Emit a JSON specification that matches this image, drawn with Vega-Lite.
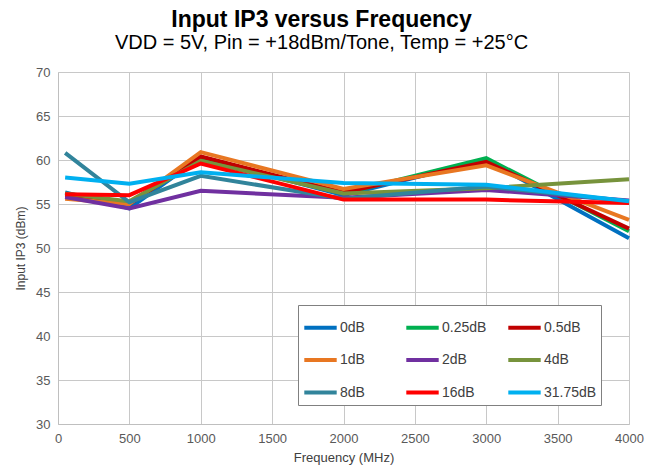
{
  "$schema": "https://vega.github.io/schema/vega-lite/v6.json",
  "width": 571,
  "height": 352,
  "autosize": {"type": "none"},
  "padding": {"left": 58, "top": 72, "right": 16, "bottom": 51},
  "background": "white",
  "config": {
    "font": "Liberation Sans",
    "view": {"stroke": null}
  },
  "title": {
    "text": "Input IP3 versus Frequency",
    "subtitle": "VDD = 5V, Pin = +18dBm/Tone, Temp = +25°C",
    "anchor": "middle",
    "dx": -22,
    "fontSize": 23,
    "fontWeight": "bold",
    "color": "#000000",
    "subtitleFontSize": 20,
    "subtitleColor": "#000000",
    "subtitlePadding": 1,
    "offset": 13
  },
  "data": {
    "values": [
      {"series": "0dB", "freq": 50, "ip3": 56.3},
      {"series": "0dB", "freq": 500, "ip3": 54.5},
      {"series": "0dB", "freq": 1000, "ip3": 60.3},
      {"series": "0dB", "freq": 2000, "ip3": 56.0},
      {"series": "0dB", "freq": 3000, "ip3": 60.0},
      {"series": "0dB", "freq": 4000, "ip3": 51.1},
      {"series": "0.25dB", "freq": 50, "ip3": 56.1},
      {"series": "0.25dB", "freq": 500, "ip3": 55.2},
      {"series": "0.25dB", "freq": 1000, "ip3": 60.1},
      {"series": "0.25dB", "freq": 2000, "ip3": 56.2},
      {"series": "0.25dB", "freq": 3000, "ip3": 60.2},
      {"series": "0.25dB", "freq": 4000, "ip3": 51.9},
      {"series": "0.5dB", "freq": 50, "ip3": 56.0},
      {"series": "0.5dB", "freq": 500, "ip3": 55.0},
      {"series": "0.5dB", "freq": 1000, "ip3": 60.4},
      {"series": "0.5dB", "freq": 2000, "ip3": 56.3},
      {"series": "0.5dB", "freq": 3000, "ip3": 59.8},
      {"series": "0.5dB", "freq": 4000, "ip3": 52.2},
      {"series": "1dB", "freq": 50, "ip3": 55.6},
      {"series": "1dB", "freq": 500, "ip3": 55.0},
      {"series": "1dB", "freq": 1000, "ip3": 60.9},
      {"series": "1dB", "freq": 2000, "ip3": 56.7},
      {"series": "1dB", "freq": 3000, "ip3": 59.4},
      {"series": "1dB", "freq": 4000, "ip3": 53.2},
      {"series": "2dB", "freq": 50, "ip3": 55.8},
      {"series": "2dB", "freq": 500, "ip3": 54.5},
      {"series": "2dB", "freq": 1000, "ip3": 56.5},
      {"series": "2dB", "freq": 2000, "ip3": 55.7},
      {"series": "2dB", "freq": 3000, "ip3": 56.6},
      {"series": "2dB", "freq": 4000, "ip3": 55.4},
      {"series": "4dB", "freq": 50, "ip3": 56.2},
      {"series": "4dB", "freq": 500, "ip3": 55.3},
      {"series": "4dB", "freq": 1000, "ip3": 59.9},
      {"series": "4dB", "freq": 2000, "ip3": 56.2},
      {"series": "4dB", "freq": 3000, "ip3": 56.8},
      {"series": "4dB", "freq": 4000, "ip3": 57.8},
      {"series": "8dB", "freq": 50, "ip3": 60.8},
      {"series": "8dB", "freq": 500, "ip3": 55.2},
      {"series": "8dB", "freq": 1000, "ip3": 58.2},
      {"series": "8dB", "freq": 2000, "ip3": 55.6},
      {"series": "8dB", "freq": 3000, "ip3": 57.0},
      {"series": "8dB", "freq": 4000, "ip3": 55.3},
      {"series": "16dB", "freq": 50, "ip3": 56.1},
      {"series": "16dB", "freq": 500, "ip3": 56.0},
      {"series": "16dB", "freq": 1000, "ip3": 59.6},
      {"series": "16dB", "freq": 2000, "ip3": 55.5},
      {"series": "16dB", "freq": 3000, "ip3": 55.5},
      {"series": "16dB", "freq": 4000, "ip3": 55.1},
      {"series": "31.75dB", "freq": 50, "ip3": 58.0},
      {"series": "31.75dB", "freq": 500, "ip3": 57.3},
      {"series": "31.75dB", "freq": 1000, "ip3": 58.6},
      {"series": "31.75dB", "freq": 2000, "ip3": 57.4},
      {"series": "31.75dB", "freq": 3000, "ip3": 57.2},
      {"series": "31.75dB", "freq": 4000, "ip3": 55.3}
    ]
  },
  "mark": {"type": "line", "strokeWidth": 4, "strokeJoin": "miter", "strokeCap": "butt"},
  "encoding": {
    "x": {
      "field": "freq",
      "type": "quantitative",
      "scale": {"domain": [0, 4000], "nice": false, "zero": false},
      "axis": {
        "title": "Frequency (MHz)",
        "values": [0, 500, 1000, 1500, 2000, 2500, 3000, 3500, 4000],
        "format": "d",
        "labelFontSize": 13,
        "labelColor": "#595959",
        "labelPadding": 8,
        "labelFlush": false,
        "ticks": false,
        "domainColor": "#bfbfbf",
        "domainWidth": 1,
        "gridColor": "#c8c8c8",
        "gridWidth": 1,
        "titleFontSize": 13,
        "titleFontWeight": "normal",
        "titleColor": "#404040",
        "titlePadding": 6
      }
    },
    "y": {
      "field": "ip3",
      "type": "quantitative",
      "scale": {"domain": [30, 70], "nice": false, "zero": false},
      "axis": {
        "title": "Input IP3 (dBm)",
        "values": [30, 35, 40, 45, 50, 55, 60, 65, 70],
        "labelFontSize": 13,
        "labelColor": "#595959",
        "labelPadding": 8,
        "ticks": false,
        "domainColor": "#bfbfbf",
        "domainWidth": 1,
        "gridColor": "#c8c8c8",
        "gridWidth": 1,
        "titleFontSize": 12,
        "titleFontWeight": "normal",
        "titleColor": "#404040",
        "titlePadding": 8
      }
    },
    "color": {
      "field": "series",
      "type": "nominal",
      "sort": ["0dB", "0.25dB", "0.5dB", "1dB", "2dB", "4dB", "8dB", "16dB", "31.75dB"],
      "scale": {
        "domain": ["0dB", "0.25dB", "0.5dB", "1dB", "2dB", "4dB", "8dB", "16dB", "31.75dB"],
        "range": ["#0070C0", "#00B050", "#C00000", "#E87722", "#7030A0", "#77933C", "#31849B", "#FF0000", "#00B0F0"]
      },
      "legend": {
        "title": null,
        "orient": "none",
        "legendX": 240,
        "legendY": 233,
        "columns": 3,
        "direction": "horizontal",
        "gridAlign": "all",
        "symbolType": "stroke",
        "symbolSize": 1050,
        "symbolStrokeWidth": 4,
        "labelFontSize": 14,
        "labelColor": "#404040",
        "labelOffset": 1,
        "columnPadding": 5,
        "rowPadding": 5.5,
        "padding": 4,
        "strokeColor": "#808080",
        "fillColor": "white"
      }
    },
    "order": {"field": "freq"}
  }
}
